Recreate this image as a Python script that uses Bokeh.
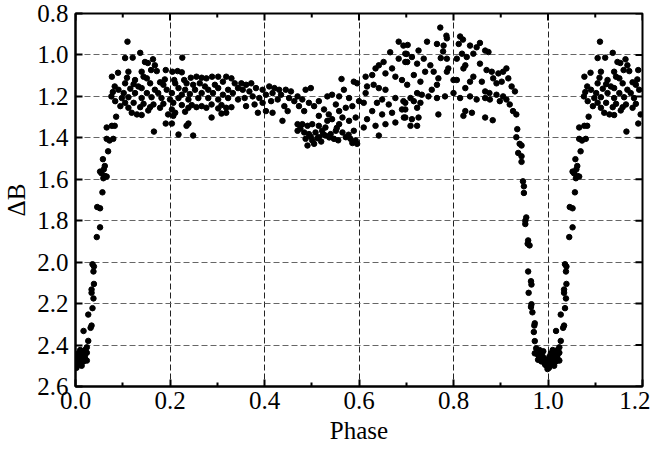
import math
from bokeh.plotting import figure
from bokeh.models import Range1d, FixedTicker, PrintfTickFormatter, ColumnDataSource
from bokeh.embed import file_html
from bokeh.resources import INLINE

# ---- data (orbital phase, Delta B) ----
egress_phase = [.066, .066, .072, .080, .069, .058, .062, .060, .052, .055, .062, .059,
                .066, .057, .046, .052, .052, .045, .036, .039, .038, .039, .034, .034,
                .038, .036, .027, .034, .032, .017, .027, .024, .020, .010, .006, .024,
                .003, .013, .020, .006, .017, .024, .003, .010, .001, .013, .020, .008,
                .004, .012, .016, .002, .008]
egress_db = [1.350, 1.405, 1.413, 1.405, 1.465, 1.503, 1.536, 1.552, 1.563, 1.571, 1.584, 1.595,
             1.587, 1.663, 1.734, 1.740, 1.832, 1.879, 2.010, 2.021, 2.045, 2.105, 2.132, 2.148,
             2.175, 2.222, 2.253, 2.306, 2.317, 2.332, 2.380, 2.411, 2.424, 2.424, 2.440, 2.437,
             2.456, 2.456, 2.464, 2.479, 2.479, 2.475, 2.495, 2.487, 2.503, 2.500, 2.448, 2.464,
             2.470, 2.470, 2.440, 2.510, 2.490]

max1_phase = [.110, .137, .105, .121, .164, .226, .147, .153, .168, .160, .172, .191,
              .112, .140, .090, .205, .216, .225, .077, .109, .126, .144, .151, .189,
              .209, .230, .244, .256, .267, .277, .289, .302, .319, .330, .083, .105,
              .123, .133, .158, .179, .186, .211, .235, .249, .263, .274, .295, .312,
              .337, .091, .116, .140, .168, .193, .218, .232, .253, .281, .302, .323,
              .344, .079, .102, .126, .151, .175, .204, .225, .242, .267, .291, .312,
              .333, .076, .098, .112, .140, .161, .182, .200, .218, .239, .260, .281,
              .302, .323, .344, .084, .105, .123, .144, .165, .186, .207, .225, .246,
              .267, .288, .309, .330, .095, .112, .137, .158, .179, .204, .239, .256,
              .277, .302, .319, .119, .130, .140, .154, .196, .211, .232, .309, .319,
              .086, .207, .288, .191, .204, .239, .235, .166, .218, .249, .077, .083]
max1_db = [.936, .990, 1.015, 1.013, 1.021, 1.013, 1.034, 1.039, 1.050, 1.073, 1.078, 1.073,
           1.081, 1.081, 1.086, 1.081, 1.078, 1.084, 1.105, 1.110, 1.121, 1.105, 1.113, 1.118,
           1.121, 1.121, 1.110, 1.105, 1.110, 1.113, 1.105, 1.105, 1.105, 1.113, 1.152, 1.137,
           1.141, 1.152, 1.137, 1.132, 1.144, 1.137, 1.137, 1.144, 1.137, 1.152, 1.144, 1.129,
           1.137, 1.168, 1.163, 1.160, 1.168, 1.168, 1.160, 1.168, 1.168, 1.168, 1.160, 1.168,
           1.160, 1.179, 1.184, 1.184, 1.184, 1.184, 1.184, 1.192, 1.189, 1.184, 1.184, 1.192,
           1.184, 1.200, 1.208, 1.204, 1.208, 1.204, 1.208, 1.215, 1.208, 1.215, 1.208, 1.208,
           1.215, 1.208, 1.215, 1.223, 1.231, 1.231, 1.236, 1.239, 1.236, 1.231, 1.242, 1.242,
           1.247, 1.239, 1.242, 1.252, 1.247, 1.255, 1.252, 1.252, 1.255, 1.263, 1.255, 1.252,
           1.255, 1.258, 1.255, 1.279, 1.287, 1.290, 1.268, 1.287, 1.279, 1.274, 1.283, 1.279,
           1.298, 1.294, 1.302, 1.331, 1.331, 1.331, 1.342, 1.370, 1.384, 1.389, 1.342, 1.342]

mid_phase = [.351, .361, .372, .354, .368, .382, .396, .410, .421, .431, .358, .375,
             .389, .403, .417, .435, .361, .379, .396, .414, .428, .445, .456, .452,
             .463, .442, .386, .403, .417, .449, .438, .470, .480, .487, .498, .473,
             .484, .494, .505, .515, .533, .543, .558, .551, .526, .515, .536, .558,
             .572, .586, .568, .589, .596, .563, .579, .600, .610, .614, .617, .631,
             .642, .656, .614, .628, .635, .642, .652, .666, .656, .670, .684, .677,
             .691, .698, .684, .694, .701, .638, .649, .663, .677, .694, .628, .649,
             .670, .691, .617, .635, .656, .677, .698, .642, .610, .470, .480, .491,
             .501, .515, .470, .484, .494, .508, .522, .487, .501, .515, .491, .505,
             .529, .540, .551, .558, .565, .572, .582, .593, .596, .589, .547, .529,
             .543, .565, .579, .593, .533, .476, .512, .524, .537, .556, .578, .586,
             .498, .520, .553]
mid_db = [1.137, 1.144, 1.137, 1.168, 1.176, 1.160, 1.168, 1.152, 1.160, 1.168, 1.208, 1.200,
          1.208, 1.192, 1.184, 1.192, 1.247, 1.239, 1.231, 1.223, 1.215, 1.168, 1.176, 1.208,
          1.223, 1.247, 1.279, 1.271, 1.279, 1.271, 1.318, 1.200, 1.215, 1.168, 1.160, 1.247,
          1.271, 1.231, 1.247, 1.223, 1.200, 1.192, 1.200, 1.239, 1.263, 1.294, 1.287, 1.271,
          1.255, 1.247, 1.168, 1.129, 1.137, 1.116, 1.208, 1.223, 1.231, 1.184, 1.152, 1.144,
          1.160, 1.168, 1.105, 1.097, 1.065, 1.050, 1.034, .987, 1.089, 1.065, 1.018, 1.105,
          1.121, 1.034, .936, .955, .995, 1.231, 1.215, 1.239, 1.208, 1.223, 1.271, 1.287,
          1.279, 1.263, 1.310, 1.342, 1.334, 1.326, 1.302, 1.389, 1.350, 1.334, 1.334, 1.342,
          1.334, 1.342, 1.366, 1.374, 1.382, 1.374, 1.366, 1.405, 1.413, 1.397, 1.437, 1.429,
          1.389, 1.382, 1.366, 1.334, 1.374, 1.397, 1.405, 1.413, 1.429, 1.366, 1.405, 1.350,
          1.310, 1.302, 1.318, 1.302, 1.318, 1.355, 1.402, 1.382, 1.398, 1.412, 1.385, 1.425,
          1.395, 1.418, 1.352]

max2_phase = [.772, .785, .786, .814, .820, .811, .835, .849, .856, .867, .874, .765,
              .779, .744, .726, .703, .698, .712, .702, .723, .778, .773, .786, .807,
              .818, .828, .842, .825, .821, .856, .870, .881, .895, .905, .912, .884,
              .891, .902, .916, .923, .930, .860, .842, .835, .825, .807, .786, .789,
              .800, .768, .765, .754, .740, .758, .716, .730, .702, .723, .709, .733,
              .747, .765, .782, .800, .814, .835, .849, .867, .877, .891, .905, .912,
              .919, .926, .933, .839, .825, .821, .867, .883, .768, .726, .712, .698,
              .723, .709, .723, .695, .898, .867, .876, .730, .716, .698, .737, .751]
max2_db = [.868, .907, .920, .911, .926, .947, .955, .963, .942, .979, .986, .947,
           .955, .936, .979, .952, .994, 1.010, 1.034, 1.042, .983, 1.015, 1.018, 1.018,
           .994, 1.010, .994, 1.050, 1.065, 1.042, 1.073, 1.081, 1.089, 1.081, 1.065, 1.113,
           1.137, 1.129, 1.113, 1.152, 1.176, 1.129, 1.105, 1.129, 1.160, 1.121, 1.081, 1.065,
           1.121, 1.113, 1.144, 1.168, 1.081, 1.081, 1.097, 1.129, 1.144, 1.184, 1.208, 1.192,
           1.200, 1.208, 1.200, 1.184, 1.208, 1.200, 1.215, 1.208, 1.215, 1.192, 1.200, 1.215,
           1.239, 1.271, 1.287, 1.279, 1.271, 1.294, 1.302, 1.315, 1.287, 1.302, 1.310, 1.263,
           1.255, 1.342, 1.342, 1.302, 1.223, 1.176, 1.184, 1.231, 1.223, 1.231, 1.018, 1.050]

ingress_phase = [.935, .933, .940, .944, .937, .944, .944, .947, .949, .949, .954, .952,
                 .952, .958, .957, .961, .958, .964, .965, .959, .965, .964, .967, .972,
                 .971, .970, .972, .975, .982, .972, .979, .986, .989, .979, .986, .993,
                 .997, .999, .992, .996, .984, .990, .994]
ingress_db = [1.358, 1.397, 1.429, 1.437, 1.473, 1.489, 1.516, 1.610, 1.634, 1.666, 1.784, 1.800,
              1.816, 1.895, 1.911, 1.919, 2.045, 2.092, 2.108, 2.148, 2.203, 2.216, 2.242, 2.295,
              2.306, 2.337, 2.381, 2.416, 2.424, 2.440, 2.448, 2.440, 2.456, 2.471, 2.479, 2.487,
              2.500, 2.516, 2.466, 2.478, 2.455, 2.430, 2.495]

x_ticks = [0.0, 0.2, 0.4, 0.6, 0.8, 1.0, 1.2]
x_minor = [0.1, 0.3, 0.5, 0.7, 0.9, 1.1]
y_ticks = [0.8, 1.0, 1.2, 1.4, 1.6, 1.8, 2.0, 2.2, 2.4, 2.6]
x_lo, x_hi = 0.0, 1.2
y_lo, y_hi = 2.6, 0.8

phase = egress_phase + max1_phase + mid_phase + max2_phase + ingress_phase
db = egress_db + max1_db + mid_db + max2_db + ingress_db
# phased light curve repeated beyond phase 1.0
ext_phase = [ph + 1.0 for ph in phase if ph < 0.2]
ext_db = [d for ph, d in zip(phase, db) if ph < 0.2]
src = ColumnDataSource(dict(x=phase + ext_phase, y=db + ext_db))

FONT = "Liberation Serif"

p = figure(width=650, height=450, output_backend="svg", toolbar_location=None,
           x_range=Range1d(x_lo, x_hi), y_range=Range1d(y_lo, y_hi),
           min_border_left=72, min_border_right=8, min_border_top=13, min_border_bottom=64,
           x_axis_label="Phase", y_axis_label="\u0394B")
p.background_fill_color = "white"
p.border_fill_color = "white"
p.outline_line_color = "black"
p.outline_line_width = 2

xt = FixedTicker(ticks=x_ticks, minor_ticks=x_minor)
yt = FixedTicker(ticks=y_ticks, minor_ticks=[])
fmt = PrintfTickFormatter(format="%.1f")

bottom = p.below[0]
left = p.left[0]
bottom.ticker = xt
left.ticker = yt
bottom.formatter = fmt
left.formatter = fmt

for ax in [bottom, left]:
    ax.axis_line_width = 2
    ax.axis_line_color = "black"
    ax.major_tick_in = 7
    ax.major_tick_out = 0
    ax.minor_tick_in = 4
    ax.minor_tick_out = 0
    ax.major_tick_line_width = 2
    ax.minor_tick_line_width = 2
    ax.major_label_text_font = FONT
    ax.major_label_text_font_size = "25px"
    ax.major_label_text_color = "black"
    ax.axis_label_text_font = FONT
    ax.axis_label_text_font_size = "25px"
    ax.axis_label_text_font_style = "normal"
    ax.axis_label_text_color = "black"
left.minor_tick_line_color = None
bottom.major_label_standoff = 5
left.major_label_standoff = 7
bottom.axis_label_standoff = 5
left.axis_label_standoff = 4

p.xgrid.ticker = xt
p.ygrid.ticker = yt
p.xgrid.grid_line_color = "#222222"
p.ygrid.grid_line_color = "#666666"
for g in [p.xgrid, p.ygrid]:
    g.grid_line_dash = "6 3"
    g.grid_line_width = 1

# inward ticks on the top and right frame edges
p.ray(x=x_ticks, y=[y_hi] * len(x_ticks), length=7, length_units="screen",
      angle=-math.pi / 2, line_color="black", line_width=2)
p.ray(x=x_minor, y=[y_hi] * len(x_minor), length=4, length_units="screen",
      angle=-math.pi / 2, line_color="black", line_width=2)
p.ray(x=[x_hi] * len(y_ticks), y=y_ticks, length=7, length_units="screen",
      angle=math.pi, line_color="black", line_width=2)

p.scatter("x", "y", source=src, size=5.5, color="black")

open("out.html", "w").write(file_html(p, INLINE))
